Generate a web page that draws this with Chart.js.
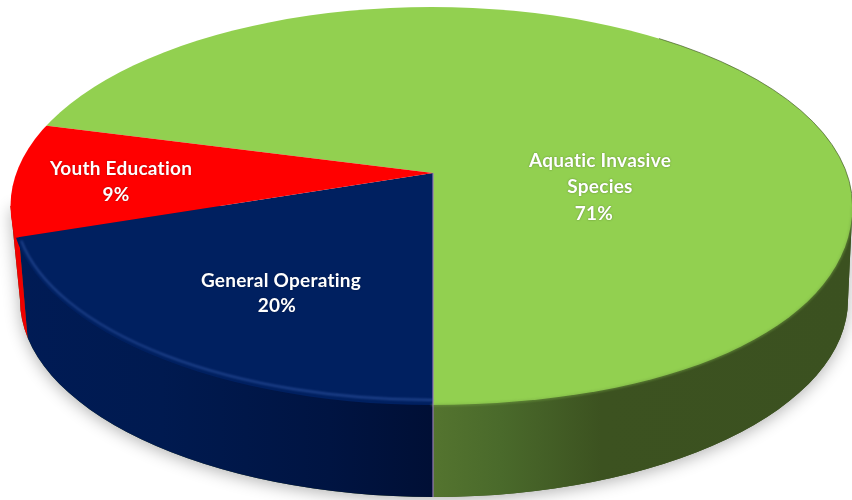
<!DOCTYPE html>
<html>
<head>
<meta charset="utf-8">
<script src="https://cdn.jsdelivr.net/npm/chart.js@4"></script>
<style>html,body{margin:0;padding:0;background:#fff}canvas{display:block}</style>
</head>
<body>
<canvas id="c" width="852" height="500"></canvas>
<script>
const categories = ['Aquatic Invasive Species', 'General Operating', 'Youth Education'];
const shares = [71, 20, 9];
const topColors = ['#92D050', '#002060', '#FF0000'];
const wallStops = [
  [[0, '#54742f'], [0.16, '#4a6a2b'], [0.4, '#3c5220'], [1, '#3b5120']],
  [[0, '#001b55'], [0.35, '#001a50'], [0.75, '#001442'], [1, '#000f35']],
  [[0, '#f00000'], [1, '#f00000']]
];
const labelLines = [
  [['Aquatic Invasive', 600, 161], ['Species', 600, 187]],
  [['General Operating', 281, 281]],
  [['Youth Education', 121, 169]]
];
const pctPos = [[594, 214], [277, 306], [116, 195]];

const apex = {x: 433, y: 173};
const stretch = {x: 2.52, y: 1.2};
const face = {x: 431.5, y: 206, rx: 421, ry: 199};
const wall = {x: 434, y: 300, rx: 414, ry: 197};
const bulge = 0.59;

function faceT(angle) {
  const dx = stretch.x * Math.cos(angle), dy = stretch.y * Math.sin(angle);
  const ox = (apex.x - face.x) / face.rx, oy = (apex.y - face.y) / face.ry;
  const ux = dx / face.rx, uy = dy / face.ry;
  const a = ux * ux + uy * uy, b = 2 * (ox * ux + oy * uy), c = ox * ox + oy * oy - 1;
  const s = (-b + Math.sqrt(b * b - 4 * a * c)) / (2 * a);
  return Math.atan2(oy + uy * s, ox + ux * s);
}
function lean(x, y) { return (face.x - x) * 0.02 * (y - 236) / 86; }
function frontRight(ctx) {
  ctx.bezierCurveTo(face.x + face.rx, face.y + face.ry * bulge,
                    face.x + face.rx * bulge, face.y + face.ry,
                    face.x, face.y + face.ry);
}
function wallPath(ctx) {
  ctx.beginPath();
  ctx.moveTo(face.x + face.rx, face.y);
  ctx.lineTo(wall.x + wall.rx, wall.y);
  ctx.ellipse(wall.x, wall.y, wall.rx, wall.ry, 0, 0, Math.PI);
  ctx.lineTo(face.x - face.rx, face.y);
  ctx.closePath();
}
function facePath(ctx) {
  ctx.beginPath();
  ctx.moveTo(face.x + face.rx, face.y);
  frontRight(ctx);
  ctx.ellipse(face.x, face.y, face.rx, face.ry, 0, Math.PI / 2, Math.PI * 2);
  ctx.closePath();
}
function spans(arcs) {
  return arcs.map(arc => {
    const t0 = faceT(arc.startAngle);
    let t1 = faceT(arc.endAngle);
    while (t1 < t0) t1 += Math.PI * 2;
    return {t0, t1, a: Math.max(t0, 0), b: Math.min(t1, Math.PI)};
  });
}

const pseudo3d = {
  id: 'pseudo3d',
  beforeDatasetsDraw(chart) {
    const ctx = chart.ctx;
    const arcs = chart.getDatasetMeta(0).data;
    const sp = spans(arcs);
    ctx.save();
    ctx.shadowColor = 'rgba(0,0,0,0.3)';
    ctx.shadowBlur = 16;
    ctx.shadowOffsetY = 3;
    wallPath(ctx);
    ctx.fillStyle = '#3c5220';
    ctx.fill();
    ctx.restore();
    sp.forEach((s, i) => {
      if (s.b <= s.a) return;
      const xr = face.x + face.rx * Math.cos(s.a);
      const xl = face.x + face.rx * Math.cos(s.b);
      const g = ctx.createLinearGradient(xl, 0, xr, 0);
      wallStops[i].forEach(st => g.addColorStop(st[0], st[1]));
      // slices reaching the far left or right of the disc cover the whole rim there
      const edgeL = s.b >= Math.PI ? 40 : 0;
      const edgeR = s.a <= 0 ? 40 : 0;
      ctx.save();
      ctx.beginPath();
      ctx.moveTo(xl - edgeL, 200);
      ctx.lineTo(xr + edgeR, 200);
      ctx.lineTo(xr + edgeR + lean(xr, 500), 500);
      ctx.lineTo(xl - edgeL + lean(xl, 500), 500);
      ctx.closePath();
      ctx.clip();
      wallPath(ctx);
      ctx.fillStyle = g;
      ctx.fill();
      ctx.restore();
    });
    const a0 = arcs[0];
    ctx.save();
    facePath(ctx);
    ctx.clip();
    ctx.translate(apex.x, apex.y);
    ctx.scale(stretch.x, stretch.y);
    ctx.translate(-a0.x, -a0.y);
  },
  afterDatasetsDraw(chart) {
    const ctx = chart.ctx;
    const arcs = chart.getDatasetMeta(0).data;
    const sp = spans(arcs);
    ctx.restore();

    // soft bevel on the front rim
    ctx.save();
    ctx.filter = 'blur(1px)';
    ctx.lineWidth = 2;
    ctx.strokeStyle = 'rgba(120,170,70,0.55)';
    ctx.beginPath();
    ctx.moveTo(face.x + face.rx, face.y);
    frontRight(ctx);
    ctx.stroke();
    ctx.lineWidth = 1.8;
    ctx.strokeStyle = 'rgba(70,110,195,0.5)';
    ctx.beginPath();
    ctx.ellipse(face.x, face.y, face.rx - 4, face.ry - 5, 0, sp[1].a, sp[1].b - 0.02);
    ctx.stroke();
    ctx.restore();

    // thin dark outline on the upper right
    ctx.save();
    ctx.lineWidth = 1;
    ctx.strokeStyle = 'rgba(62,85,34,0.65)';
    ctx.beginPath();
    ctx.ellipse(face.x, face.y, face.rx, face.ry, 0, -1.0, 0);
    ctx.stroke();
    ctx.restore();

    // seam between the first two slices
    const seamT = sp[0].t1;
    const sx = face.x + face.rx * Math.cos(seamT);
    const sy = face.y + face.ry * Math.sin(seamT);
    ctx.save();
    ctx.lineWidth = 1.5;
    ctx.strokeStyle = 'rgba(150,120,190,0.75)';
    ctx.beginPath();
    ctx.moveTo(apex.x, apex.y);
    ctx.lineTo(sx, sy);
    ctx.lineTo(sx, wall.y + wall.ry);
    ctx.stroke();
    ctx.restore();

    // labels
    ctx.save();
    ctx.font = 'bold 19px Lato, "Open Sans", sans-serif';
    ctx.letterSpacing = '0.25px';
    ctx.fillStyle = '#ffffff';
    ctx.textAlign = 'center';
    ctx.textBaseline = 'middle';
    ctx.shadowColor = 'rgba(0,0,0,0.35)';
    ctx.shadowBlur = 2;
    labelLines.forEach((lines, i) => {
      lines.forEach(l => ctx.fillText(l[0], l[1], l[2]));
      ctx.fillText(shares[i] + '%', pctPos[i][0], pctPos[i][1]);
    });
    ctx.restore();
  }
};

new Chart(document.getElementById('c'), {
  type: 'pie',
  data: {
    labels: categories,
    datasets: [{data: shares, backgroundColor: topColors, borderWidth: 0}]
  },
  options: {
    responsive: false,
    animation: false,
    rotation: -75.6,
    layout: {padding: 0},
    plugins: {legend: {display: false}, tooltip: {enabled: false}, title: {display: false}}
  },
  plugins: [pseudo3d]
});
</script>
</body>
</html>
